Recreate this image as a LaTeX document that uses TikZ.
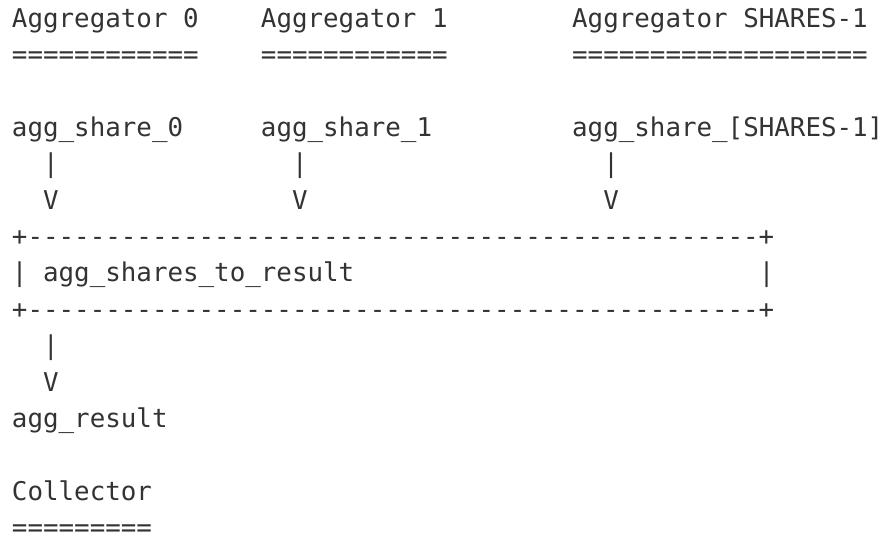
\documentclass[tikz,border=0pt]{standalone}
\usepackage{fontspec}
\setmonofont{DejaVu Sans Mono}
\definecolor{ink}{HTML}{333333}
\newcommand\gx[1]{12+#1*15.56}
\newcommand\gy[1]{27+#1*36.4}
\tikzset{
  asc/.style={anchor=base west, inner sep=0pt, outer sep=0pt, text=ink,
    font=\ttfamily\fontsize{19.38}{23}\selectfont}
}
\begin{document}
\begin{tikzpicture}[x=0.75pt,y=-0.75pt]
\useasboundingbox (0,0) rectangle (885,540);
% headers
\node[asc] (h0) at ({\gx{0}},{\gy{0}}) {Aggregator 0};
\node[asc] (h1) at ({\gx{16}},{\gy{0}}) {Aggregator 1};
\node[asc] (h2) at ({\gx{36}},{\gy{0}}) {Aggregator SHARES-1};
\node[asc] (u0) at ({\gx{0}},{\gy{1}}) {============};
\node[asc] (u1) at ({\gx{16}},{\gy{1}}) {============};
\node[asc] (u2) at ({\gx{36}},{\gy{1}}) {===================};
% shares
\node[asc] (s0) at ({\gx{0}},{\gy{3}}) {agg\_share\_0};
\node[asc] (s1) at ({\gx{16}},{\gy{3}}) {agg\_share\_1};
\node[asc] (s2) at ({\gx{36}},{\gy{3}}) {agg\_share\_[SHARES-1]};
\node[asc] (p0) at ({\gx{2}},{\gy{4}}) {|};
\node[asc] (p1) at ({\gx{18}},{\gy{4}}) {|};
\node[asc] (p2) at ({\gx{38}},{\gy{4}}) {|};
\node[asc] (v0) at ({\gx{2}},{\gy{5}}) {V};
\node[asc] (v1) at ({\gx{18}},{\gy{5}}) {V};
\node[asc] (v2) at ({\gx{38}},{\gy{5}}) {V};
% box
\node[asc] (btop) at ({\gx{0}},{\gy{6}}) {+-----------------------------------------------+};
\node[asc] (bl) at ({\gx{0}},{\gy{7}}) {|};
\node[asc] (bt) at ({\gx{2}},{\gy{7}}) {agg\_shares\_to\_result};
\node[asc] (br) at ({\gx{48}},{\gy{7}}) {|};
\node[asc] (bbot) at ({\gx{0}},{\gy{8}}) {+-----------------------------------------------+};
% result
\node[asc] (p3) at ({\gx{2}},{\gy{9}}) {|};
\node[asc] (v3) at ({\gx{2}},{\gy{10}}) {V};
\node[asc] (res) at ({\gx{0}},{\gy{11}}) {agg\_result};
\node[asc] (col) at ({\gx{0}},{\gy{13}}) {Collector};
\node[asc] (cu) at ({\gx{0}},{\gy{14}}) {=========};
\end{tikzpicture}
\end{document}
